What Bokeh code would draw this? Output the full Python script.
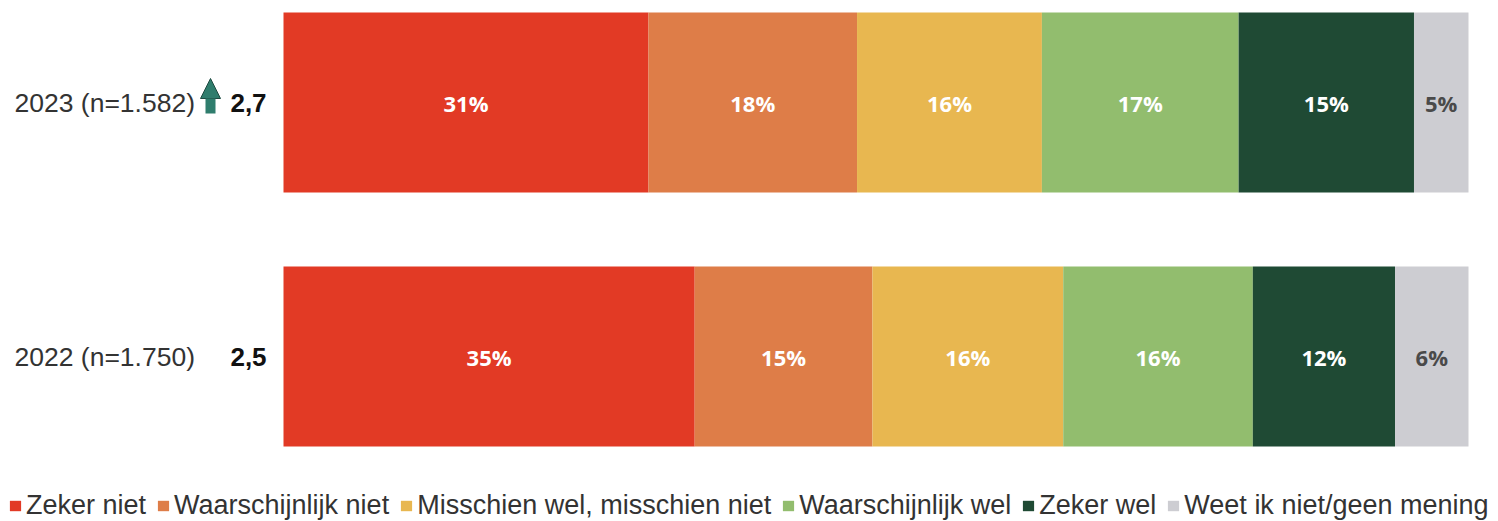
from bokeh.plotting import figure
from bokeh.models import ColumnDataSource, Range1d, Legend, Arrow, NormalHead
from bokeh.core.properties import value
from bokeh.embed import file_html
from bokeh.resources import INLINE

# ---- data ----
years = ["2023 (n=1.582)", "2022 (n=1.750)"]
means = ["2,7", "2,5"]
categories = ["Zeker niet", "Waarschijnlijk niet", "Misschien wel, misschien niet",
              "Waarschijnlijk wel", "Zeker wel", "Weet ik niet/geen mening"]
v2023 = [30.8, 17.6, 15.6, 16.6, 14.8, 4.6]
v2022 = [34.7, 15.0, 16.1, 16.0, 12.0, 6.2]
colors = ["#E23A25", "#DE7D48", "#E8B750", "#92BD6E", "#1F4A34", "#CDCDD2"]
label_colors = ["#FFFFFF", "#FFFFFF", "#FFFFFF", "#FFFFFF", "#FFFFFF", "#4A4A4A"]

W, H = 1498, 521
# layout: frame covers the whole canvas; value 0 at px 283, 100 at px 1468
X_PX0, X_PX100 = 283, 1468
sx = (X_PX100 - X_PX0) / 100.0
x_start = -X_PX0 / sx
x_end = x_start + W / sx
# y: 2023 -> 1 centred at px 102 ; 2022 -> 0 centred at px 356
Y1_PX, Y0_PX = 102, 356
sy = Y0_PX - Y1_PX
y_top = 1 + Y1_PX / sy
y_bottom = 1 - (H - Y1_PX) / sy
bar_h = 180 / sy


def px2x(px):
    return x_start + px / sx


def py2y(py):
    return 1 - (py - Y1_PX) / sy


ys = [1, 0]
data = {"y": ys}
for i, c in enumerate(categories):
    data[c] = [v2023[i], v2022[i]]
src = ColumnDataSource(data)

p = figure(width=W, height=H, output_backend="svg", toolbar_location=None,
           x_range=Range1d(x_start, x_end), y_range=Range1d(y_bottom, y_top),
           min_border=0, min_border_left=0, min_border_right=0,
           min_border_top=0, min_border_bottom=0)
p.axis.visible = False
p.grid.visible = False
p.outline_line_color = None
p.background_fill_color = "white"
p.border_fill_color = "white"

renderers = p.hbar_stack(categories, y="y", height=bar_h, color=colors,
                         line_color=None, source=src)

# percentage labels
lx, ly, lt, lc = [], [], [], []
for vals, yv in ((v2023, 1), (v2022, 0)):
    cum = 0.0
    for i, v in enumerate(vals):
        lx.append(cum + v / 2)
        ly.append(yv)
        lt.append(f"{round(v)}%")
        lc.append(label_colors[i])
        cum += v
lsrc = ColumnDataSource(dict(x=lx, y=ly, t=lt, c=lc))
p.text(x="x", y="y", text="t", text_color="c", source=lsrc,
       text_align="center", text_baseline="middle",
       text_font=value("Open Sans"), text_font_style="bold", text_font_size="22px")

# row labels
rsrc = ColumnDataSource(dict(x=[px2x(14)] * 2, y=ys, t=years))
p.text(x="x", y="y", text="t", source=rsrc, text_align="left", text_baseline="middle",
       text_font=value("Liberation Sans"), text_font_size="26.5px", text_color="#333333")
msrc = ColumnDataSource(dict(x=[px2x(248)] * 2, y=ys, t=means))
p.text(x="x", y="y", text="t", source=msrc, text_align="center", text_baseline="middle",
       text_font=value("Liberation Sans"), text_font_style="bold", text_font_size="26px",
       text_color="#111111")

# up arrow for 2023
teal = "#2F7D6D"
p.add_layout(Arrow(end=NormalHead(size=20, fill_color=teal, line_color="#1D4A40", line_width=1),
                   x_start=px2x(210), y_start=py2y(113), x_end=px2x(210), y_end=py2y(78),
                   line_width=10, line_color=teal, line_cap="butt"))

legend = Legend(items=[(c, [r]) for c, r in zip(categories, renderers)],
                orientation="horizontal", location=(8, 0),
                glyph_width=14, glyph_height=13, label_standoff=4, spacing=10,
                padding=0, margin=0, border_line_alpha=0, background_fill_alpha=0,
                label_text_font="Liberation Sans", label_text_font_size="27px",
                label_text_color="#333333")
p.add_layout(legend)

open("out.html", "w").write(file_html(p, INLINE))
